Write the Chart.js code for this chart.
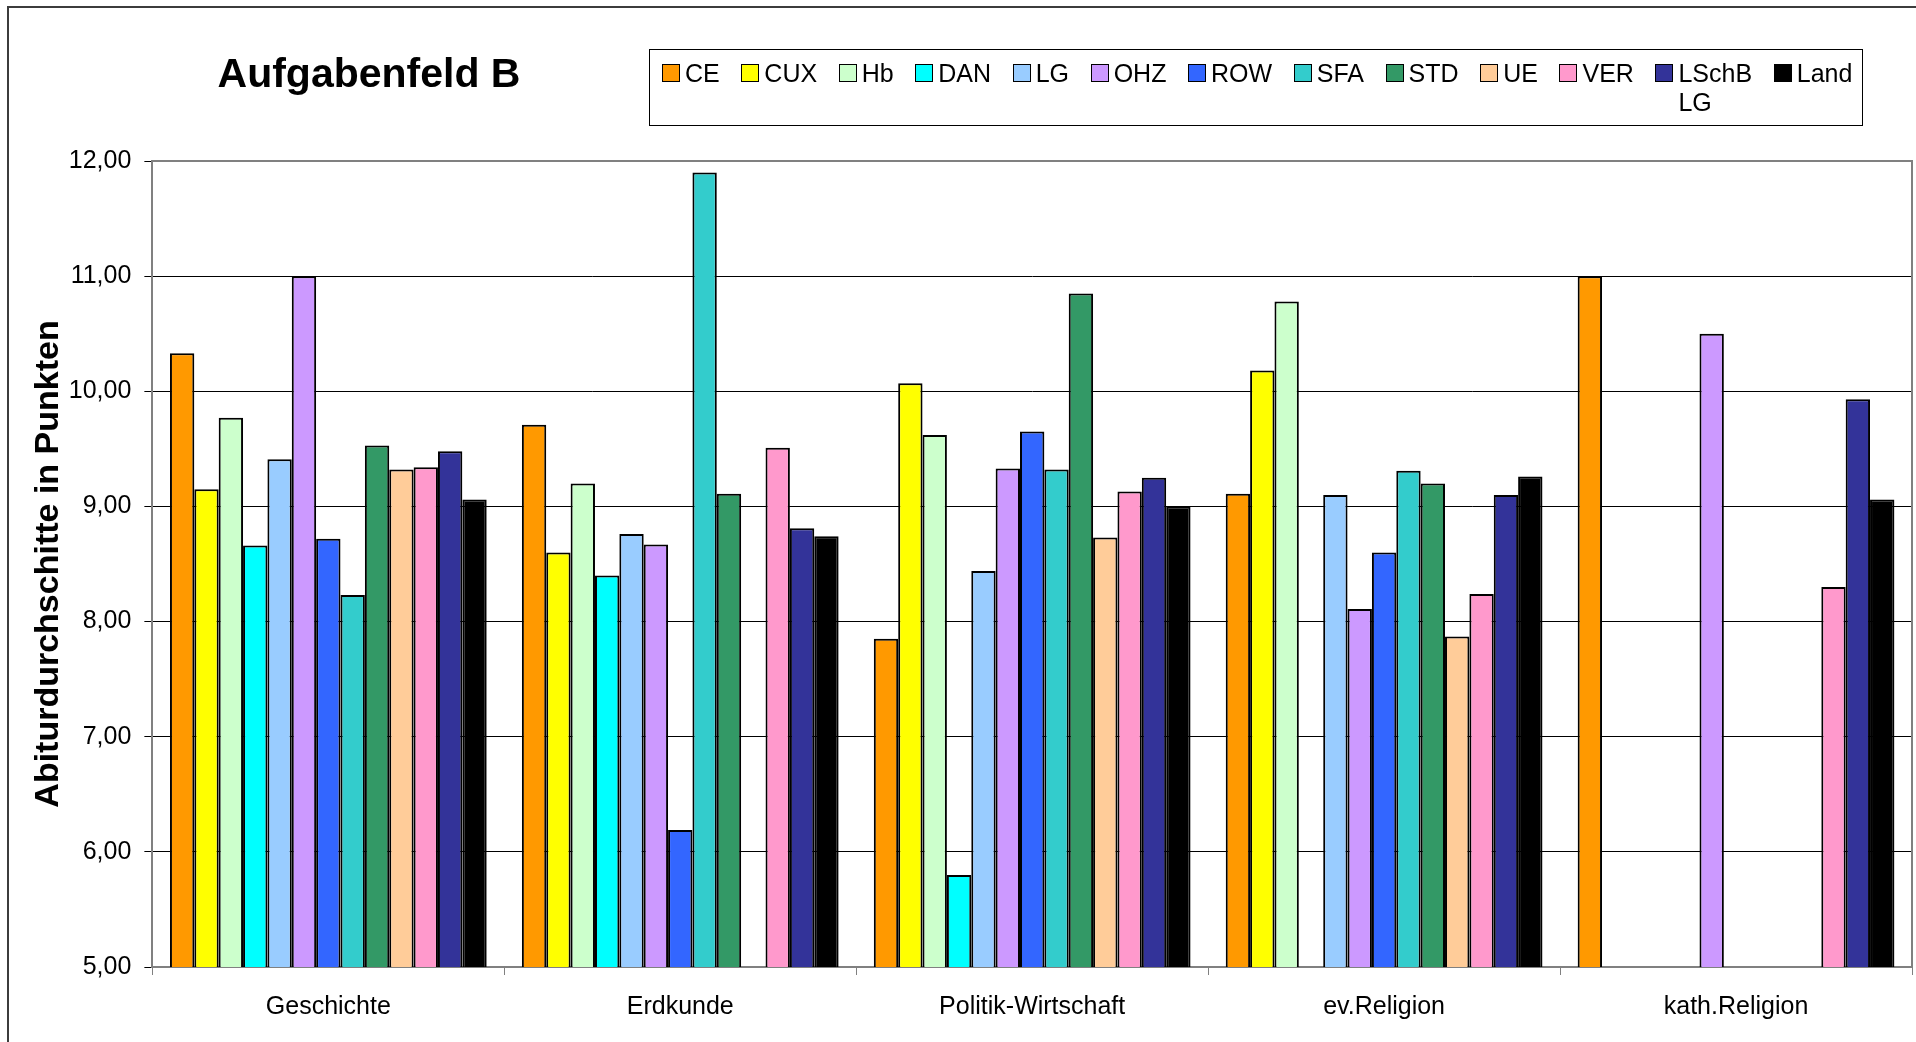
<!DOCTYPE html>
<html lang="de">
<head>
<meta charset="utf-8">
<title>Aufgabenfeld B</title>
<script src="https://cdn.jsdelivr.net/npm/chart.js@4.4.1/dist/chart.umd.min.js"></script>
<style>
    html, body { margin: 0; padding: 0; background: #fff; overflow: hidden; }
    body { width: 1916px; height: 1042px; position: relative; font-family: "Liberation Sans", Arial, sans-serif; }
    #frame { position: absolute; left: 7px; top: 6px; width: 1960px; height: 1100px; border-left: 2px solid #3c3c3c; border-top: 2px solid #3c3c3c; }
    #chart { position: absolute; left: 0; top: 0; }
    #title { position: absolute; left: 169px; top: 53px; width: 400px; text-align: center; font-weight: bold; font-size: 41px; line-height: 41px; color: #000; }
    #legend { position: absolute; left: 649px; top: 49px; width: 1212px; height: 75px; border: 1px solid #000; box-sizing: content-box; }
    #legend ul { list-style: none; margin: 0; padding: 9px 0 0 12px; display: flex; align-items: flex-start; }
    #legend li { display: flex; align-items: flex-start; margin-right: 21.6px; font-size: 25px; line-height: 29px; color: #000; }
    #legend .swatch { width: 16px; height: 16px; border: 1px solid #000; margin: 5px 5px 0 0; flex: none; }
</style>
</head>
<body>
<div id="frame"></div>
<canvas id="chart" width="1916" height="1042"></canvas>
<div id="title">Aufgabenfeld B</div>
<div id="legend"></div>
<script>
const categories = ['Geschichte', 'Erdkunde', 'Politik-Wirtschaft', 'ev.Religion', 'kath.Religion'];

const ce    = [10.33, 9.71, 7.85, 9.11, 11.00];
const cux   = [9.15, 8.60, 10.07, 10.18, null];
const hb    = [9.77, 9.20, 9.62, 10.78, null];
const dan   = [8.66, 8.40, 5.80, null, null];
const lg    = [9.41, 8.76, 8.44, 9.10, null];
const ohz   = [11.00, 8.67, 9.33, 8.11, 10.50];
const row   = [8.72, 6.19, 9.65, 8.60, null];
const sfa   = [8.23, 11.90, 9.32, 9.31, null];
const std   = [9.53, 9.11, 10.85, 9.20, null];
const ue    = [9.32, null, 8.73, 7.87, null];
const ver   = [9.34, 9.51, 9.13, 8.24, 8.30];
const lschb = [9.48, 8.81, 9.25, 9.10, 9.93];
const land  = [9.06, 8.74, 9.00, 9.26, 9.06];

const seriesNames = ['CE', 'CUX', 'Hb', 'DAN', 'LG', 'OHZ', 'ROW', 'SFA', 'STD', 'UE', 'VER', 'LSchB LG', 'Land'];
const seriesData = [ce, cux, hb, dan, lg, ohz, row, sfa, std, ue, ver, lschb, land];
const seriesColors = ['#ff9900', '#ffff00', '#ccffcc', '#00ffff', '#99ccff', '#cc99ff', '#3366ff',
    '#33cccc', '#339966', '#ffcc99', '#ff99cc', '#333399', '#000000'];

const yTicks = { min: 5, max: 12, step: 1 };

// HTML legend built from the chart's datasets
const htmlLegend = {
    id: 'htmlLegend',
    afterUpdate(chart) {
        const box = document.getElementById('legend');
        if (!box) return;
        const items = chart.data.datasets.map(ds => `
            <li>
                <span class="swatch" style="background: ${ds.backgroundColor}"></span>
                <span>${ds.label.split(' ').join('<br>')}</span>
            </li>`).join('');
        box.innerHTML = `<ul>${items}</ul>`;
    }
};

// gray frame round the plot area
const plotFrame = {
    id: 'plotFrame',
    afterDatasetsDraw(chart) {
        const { ctx, chartArea } = chart;
        ctx.save();
        ctx.strokeStyle = '#808080';
        ctx.lineWidth = 2;
        ctx.beginPath();
        ctx.moveTo(chartArea.left, chartArea.top);
        ctx.lineTo(chartArea.right, chartArea.top);
        ctx.lineTo(chartArea.right, chartArea.bottom);
        ctx.stroke();
        ctx.restore();
    }
};

const ctx = document.getElementById('chart').getContext('2d');
new Chart(ctx, {
    type: 'bar',
    data: {
        labels: categories,
        datasets: seriesNames.map((name, i) => ({
            label: name,
            data: seriesData[i],
            backgroundColor: seriesColors[i],
            borderColor: '#000',
            borderWidth: 2,
            categoryPercentage: 0.9,
            barPercentage: 1.0
        }))
    },
    options: {
        responsive: false,
        animation: false,
        layout: { padding: { top: 161, left: 28, right: 4, bottom: 3 } },
        plugins: {
            legend: { display: false },
            title: { display: false },
            tooltip: { enabled: false }
        },
        scales: {
            x: {
                grid: { drawOnChartArea: false, drawTicks: true, tickLength: 8, color: '#808080', offset: true },
                border: { color: '#808080', width: 2 },
                ticks: {
                    color: '#000',
                    padding: 17,
                    font: { family: '"Liberation Sans", Arial, sans-serif', size: 25 }
                }
            },
            y: {
                min: yTicks.min,
                max: yTicks.max,
                grid: { color: '#000', lineWidth: 1, tickLength: 8, tickColor: '#000' },
                border: { color: '#808080', width: 2 },
                ticks: {
                    stepSize: yTicks.step,
                    color: '#000',
                    padding: 13,
                    font: { family: '"Liberation Sans", Arial, sans-serif', size: 25 },
                    callback: v => v.toFixed(2).replace('.', ',')
                },
                title: {
                    display: true,
                    text: 'Abiturdurchschitte in Punkten',
                    color: '#000',
                    padding: { top: 0, bottom: -13 },
                    font: { family: '"Liberation Sans", Arial, sans-serif', size: 34, weight: 'bold' }
                }
            }
        }
    },
    plugins: [htmlLegend, plotFrame]
});
</script>
</body>
</html>
